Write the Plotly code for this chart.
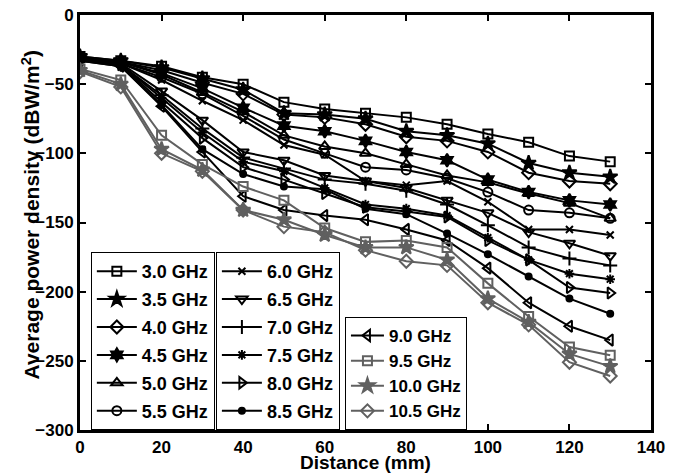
import plotly.graph_objects as go

distance = [0, 10, 20, 30, 40, 50, 60, 70, 80, 90, 100, 110, 120, 130]

freq_labels = ["3.0 GHz", "3.5 GHz", "4.0 GHz", "4.5 GHz", "5.0 GHz", "5.5 GHz",
               "6.0 GHz", "6.5 GHz", "7.0 GHz", "7.5 GHz", "8.0 GHz", "8.5 GHz",
               "9.0 GHz", "9.5 GHz", "10.0 GHz", "10.5 GHz"]

p_3_0 = [-30, -33, -37, -45, -50, -63, -68, -71, -74, -79, -86, -92, -102, -106]
p_3_5 = [-30, -33, -38, -46, -54, -71, -72, -75, -84, -87, -93, -107, -114, -117]
p_4_0 = [-31, -34, -40, -49, -57, -72, -74, -79, -88, -91, -99, -114, -120, -122]
p_4_5 = [-31, -34, -42, -53, -67, -80, -84, -91, -99, -105, -119, -128, -134, -137]
p_5_0 = [-31, -34, -43, -56, -70, -87, -95, -100, -108, -116, -121, -129, -136, -147]
p_5_5 = [-31, -35, -45, -57, -73, -90, -100, -110, -112, -118, -128, -141, -143, -147]
p_6_0 = [-31, -35, -47, -62, -76, -94, -101, -120, -123, -120, -135, -155, -155, -159]
p_6_5 = [-32, -35, -55, -76, -99, -105, -116, -120, -125, -134, -143, -157, -165, -174]
p_7_0 = [-32, -36, -58, -82, -103, -111, -119, -122, -127, -137, -152, -168, -176, -181]
p_7_5 = [-32, -36, -60, -85, -106, -113, -125, -137, -140, -145, -161, -177, -187, -191]
p_8_0 = [-32, -36, -63, -89, -110, -119, -129, -139, -142, -146, -163, -177, -197, -201]
p_8_5 = [-33, -37, -65, -97, -115, -124, -126, -140, -144, -158, -173, -189, -205, -216]
p_9_0 = [-33, -37, -66, -99, -131, -141, -145, -148, -155, -163, -183, -208, -225, -235]
p_9_5 = [-39, -47, -87, -108, -124, -134, -154, -164, -163, -168, -194, -218, -240, -246]
p_10_0 = [-40, -50, -97, -112, -141, -148, -159, -168, -168, -177, -205, -222, -245, -254]
p_10_5 = [-41, -52, -100, -113, -141, -153, -157, -170, -178, -181, -208, -224, -251, -261]

series = [p_3_0, p_3_5, p_4_0, p_4_5, p_5_0, p_5_5, p_6_0, p_6_5,
          p_7_0, p_7_5, p_8_0, p_8_5, p_9_0, p_9_5, p_10_0, p_10_5]

x_ticks = [0, 20, 40, 60, 80, 100, 120, 140]
y_ticks = [0, -50, -100, -150, -200, -250, -300]
x_title = "Distance (mm)"
y_title = "Average power density (dBW/m<sup>2</sup>)"

BLACK = "#000000"
GRAY = "#606060"

styles = [
    ("square-open", 9, BLACK, "legend"),
    ("star", 11, BLACK, "legend"),
    ("diamond-open", 10, BLACK, "legend"),
    ("hexagram", 10, BLACK, "legend"),
    ("triangle-up-open", 10, BLACK, "legend"),
    ("circle-open", 9, BLACK, "legend"),
    ("x-thin", 7, BLACK, "legend2"),
    ("triangle-down-open", 10, BLACK, "legend2"),
    ("cross-thin", 10, BLACK, "legend2"),
    ("asterisk", 8, BLACK, "legend2"),
    ("triangle-right-open", 10, BLACK, "legend2"),
    ("circle", 6, BLACK, "legend2"),
    ("triangle-left-open", 10, BLACK, "legend3"),
    ("square-open", 9, GRAY, "legend3"),
    ("star", 11, GRAY, "legend3"),
    ("diamond-open", 10, GRAY, "legend3"),
]

FONT = "Arial, 'Liberation Sans', sans-serif"

fig = go.Figure()
for i, (name, vals) in enumerate(zip(freq_labels, series)):
    sym, size, col, leg = styles[i]
    fig.add_trace(go.Scatter(
        x=distance, y=vals, name=name, mode="lines+markers",
        line=dict(color=col, width=2),
        marker=dict(symbol=sym, size=size, color=col,
                    line=dict(color=col, width=2)),
        legend=leg, legendgroup="g%d" % i,
    ))

def legend_style(x, size, gap, itemwidth):
    return dict(
        x=x, y=0.0, xanchor="left", yanchor="bottom",
        bgcolor="white", bordercolor="black", borderwidth=1,
        font=dict(family=FONT, size=size, color="black", weight="bold"),
        traceorder="grouped", tracegroupgap=gap, itemwidth=itemwidth,
    )

fig.update_layout(
    width=680, height=474,
    margin=dict(l=72, r=37, t=7, b=52),
    paper_bgcolor="white", plot_bgcolor="white",
    font=dict(family=FONT, size=17, color="black", weight="bold"),
    legend=legend_style(0.019, 18, 1.5, 40),
    legend2=legend_style(0.238, 18, 1.5, 40),
    legend3=legend_style(0.464, 17, 0, 33),
    xaxis=dict(
        range=[0, 140], tickvals=x_ticks,
        showline=True, linecolor="black", linewidth=3, mirror="allticks",
        ticks="inside", ticklen=6, tickwidth=1.5, tickcolor="black",
        showgrid=False, zeroline=False, automargin=False,
        ticklabeloverflow="allow",
        tickfont=dict(family=FONT, size=17, weight="bold"),
    ),
    yaxis=dict(
        range=[-300, 0], tickvals=y_ticks,
        showline=True, linecolor="black", linewidth=3, mirror="allticks",
        ticks="inside", ticklen=6, tickwidth=1.5, tickcolor="black",
        showgrid=False, zeroline=False, automargin=False,
        ticklabeloverflow="allow",
        tickfont=dict(family=FONT, size=17, weight="bold"),
    ),
    annotations=[
        dict(text=x_title, xref="paper", yref="paper", x=0.5, y=0,
             xanchor="center", yanchor="middle", yshift=-32, showarrow=False,
             font=dict(family=FONT, size=19, weight="bold", color="black")),
        dict(text=y_title, xref="paper", yref="paper", x=0, y=0.5,
             xanchor="center", yanchor="middle", xshift=-50, yshift=7,
             textangle=-90, showarrow=False,
             font=dict(family=FONT, size=21, weight="bold", color="black")),
    ],
)

fig.write_html("out.html")
